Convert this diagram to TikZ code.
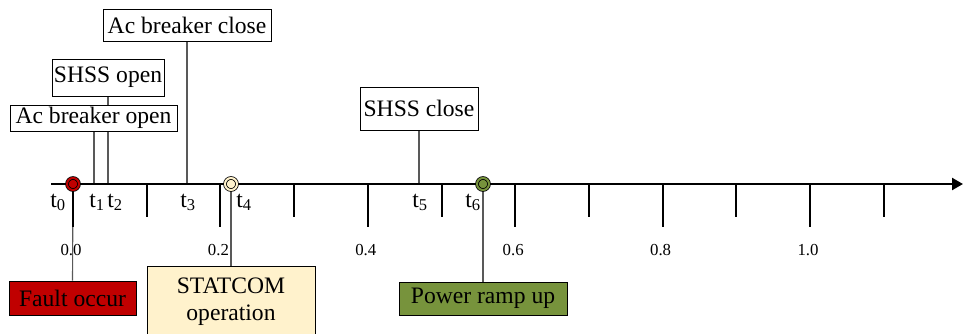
\documentclass[tikz,border=0pt]{standalone}
\usepackage{fontspec}
\setmainfont{Liberation Serif}
\usetikzlibrary{arrows.meta,calc,positioning}
\definecolor{faultred}{HTML}{C00000}
\definecolor{statpale}{HTML}{FFF2CC}
\definecolor{rampgreen}{HTML}{77933C}
\definecolor{wire}{HTML}{595959}
\pgfdeclarelayer{back}
\pgfsetlayers{back,main}

\begin{document}
\begin{tikzpicture}[x=1pt,y=1pt,font=\fontsize{23.6}{27}\selectfont,>=Triangle,
  evbox/.style={draw=black,line width=0.9pt,fill=white,inner sep=0pt},
  dot/.style={circle,draw=black,line width=0.8pt,double=#1,double distance=2pt,fill=#1,minimum size=12pt,inner sep=0pt},
  link/.style={draw=wire,line width=1.1pt},
  tlab/.style={inner sep=0pt,anchor=base},
  num/.style={font=\fontsize{16.8}{19}\selectfont,inner sep=0pt,anchor=base}]
\useasboundingbox (0,0) rectangle (963,333);
% time axis with ticks every 0.1
\coordinate (axstart) at (51,149);
\coordinate (axend) at (963,149);
\draw[line width=2.3pt,-{Triangle[length=11pt,width=12pt]}] (axstart) -- (axend);
\foreach \i in {0,...,5} {
  \pgfmathsetmacro\tx{73+147.4*\i}
  \draw[line width=2pt] (\tx,149) -- (\tx,106);
  \draw[line width=2pt] (\tx+73.7,149) -- (\tx+73.7,116);
}
\foreach \i/\v in {0/0.0,1/0.2,2/0.4,3/0.6,4/0.8,5/1.0}
  \node[num] (n\i) at ({71+147.4*\i},78) {\v};
% event instants
\coordinate (t1) at (94,149);
\coordinate (t2) at (108,149);
\coordinate (t3) at (187,149);
\coordinate (t5) at (419,149);
\node[dot=faultred] (d0) at (73,149) {};
\node[dot=statpale] (d4) at (231,149) {};
\node[dot=rampgreen] (d6) at (483,149) {};
\node[tlab] (lt0) at (58,126) {t\textsubscript{0}};
\node[tlab] (lt1) at (97,126) {t\textsubscript{1}};
\node[tlab] (lt2) at (115,126) {t\textsubscript{2}};
\node[tlab] (lt3) at (188,126) {t\textsubscript{3}};
\node[tlab] (lt4) at (244,126) {t\textsubscript{4}};
\node[tlab] (lt5) at (420,126) {t\textsubscript{5}};
\node[tlab] (lt6) at (473,126) {t\textsubscript{6}};
% event boxes
\node[evbox,minimum width=167pt,minimum height=26pt] (acopen) at (93.5,215) {Ac breaker open};
\node[evbox,minimum width=112pt,minimum height=37pt] (shssopen) at (108,255.5) {SHSS open};
\node[evbox,minimum width=168pt,minimum height=32pt] (acclose) at (187,307.5) {Ac breaker close};
\node[evbox,minimum width=118pt,minimum height=43pt] (shssclose) at (419,224.5) {SHSS close};
\node[evbox,fill=faultred,minimum width=127pt,minimum height=34pt] (fault) at (72.5,35) {Fault occur};
\node[evbox,fill=statpale,minimum width=168pt,minimum height=70pt,align=center,anchor=north] (statcom) at (231,67) {STATCOM\\operation};
\node[evbox,fill=rampgreen,minimum width=168pt,minimum height=33pt] (ramp) at (483,34.5) {Power ramp up};
% leader lines
\begin{pgfonlayer}{back}
\draw[link] (acopen.south -| t1) -- (t1);
\draw[link] (shssopen.south) -- (t2);
\draw[link] (acclose.south) -- (t3);
\draw[link] (shssclose.south) -- (t5);
\draw[link] (d0) -- (fault.north);
\draw[link] (d4) -- (statcom.north);
\draw[link] (d6) -- (ramp.north);
\end{pgfonlayer}
\end{tikzpicture}
\end{document}
